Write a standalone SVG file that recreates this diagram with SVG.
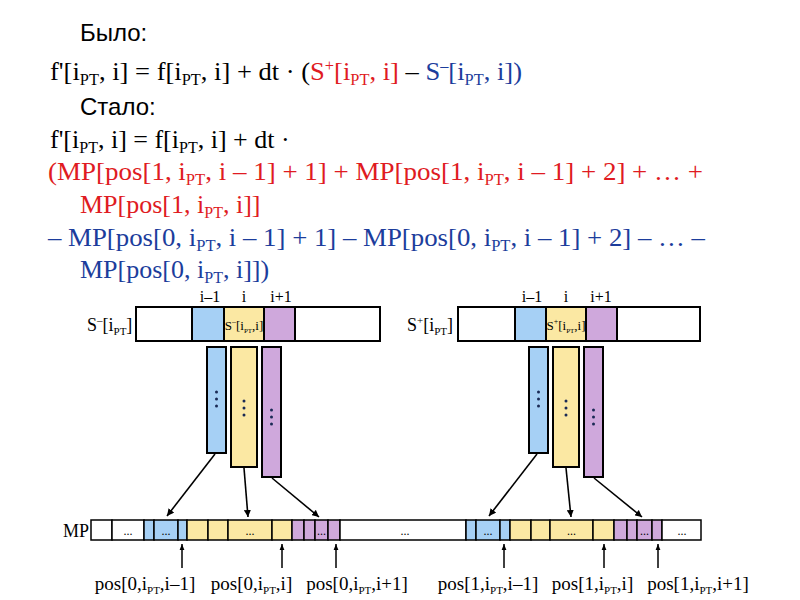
<svg xmlns="http://www.w3.org/2000/svg" width="800" height="600" viewBox="0 0 800 600">
<defs>
<style>
.h{font-family:"Liberation Sans",Arial,sans-serif;font-size:24px;fill:#000}
.f{font-family:"Liberation Serif","Times New Roman",serif;font-size:26px;fill:#000}
.r{fill:#e01b22}
.b{fill:#1c3d9c}
.sub{font-size:16px}
.lab{font-family:"Liberation Serif","Times New Roman",serif;font-size:19px;fill:#000}
.idx{font-family:"Liberation Serif","Times New Roman",serif;font-size:16px;fill:#000;text-anchor:middle}
.arrname{font-family:"Liberation Serif","Times New Roman",serif;font-size:18px;fill:#000}
.cel{font-family:"Liberation Serif","Times New Roman",serif;font-size:13px;fill:#000;text-anchor:middle}
.c8{font-size:8px}
.c7{font-size:7px}
.sm{font-size:11px}
.dots{font-family:"Liberation Serif",serif;font-size:12px;fill:#000}
.cell{stroke:#000;stroke-width:2}
.mc{stroke:#000;stroke-width:1.5}
.w{fill:#fff}
.cb{fill:#a6d0f5}
.cy{fill:#fbe8a3}
.cp{fill:#cfa8dc}
.dot{fill:#1a2a55}
.arr{stroke:#000;stroke-width:1.6;fill:none;marker-end:url(#ah)}
</style>
<marker id="ah" viewBox="0 0 10 10" refX="10" refY="5" markerWidth="7" markerHeight="7" markerUnits="userSpaceOnUse" orient="auto"><path d="M0,0 L10,5 L0,10 z" fill="#000"/></marker>
<marker id="ah2" viewBox="0 0 10 10" refX="10" refY="5" markerWidth="6" markerHeight="6" markerUnits="userSpaceOnUse" orient="auto"><path d="M0,1 L10,5 L0,9 z" fill="#000"/></marker>
</defs>
<rect width="800" height="600" fill="#fff"/>

<g id="formulas">
<text class="h" x="80" y="41">Было:</text>
<text class="f" x="50" y="80" textLength="472" lengthAdjust="spacingAndGlyphs">f'[i<tspan class="sub" dy="5">PT</tspan><tspan dy="-5">, i] = f[i</tspan><tspan class="sub" dy="5">PT</tspan><tspan dy="-5">, i] + dt · (</tspan><tspan class="r">S<tspan class="sub" dy="-9">+</tspan><tspan dy="9">[i</tspan><tspan class="sub" dy="5">PT</tspan><tspan dy="-5">, i]</tspan></tspan> – <tspan class="b">S<tspan class="sub" dy="-9">–</tspan><tspan dy="9">[i</tspan><tspan class="sub" dy="5">PT</tspan><tspan dy="-5">, i])</tspan></tspan></text>
<text class="h" x="80" y="115">Стало:</text>
<text class="f" x="50" y="148">f'[i<tspan class="sub" dy="5">PT</tspan><tspan dy="-5">, i] = f[i</tspan><tspan class="sub" dy="5">PT</tspan><tspan dy="-5">, i] + dt ·</tspan></text>
<text class="f r" x="48" y="180" textLength="655" lengthAdjust="spacingAndGlyphs">(MP[pos[1, i<tspan class="sub" dy="5">PT</tspan><tspan dy="-5">, i – 1] + 1] + MP[pos[1, i</tspan><tspan class="sub" dy="5">PT</tspan><tspan dy="-5">, i – 1] + 2]  + … +</tspan></text>
<text class="f r" x="80" y="213">MP[pos[1, i<tspan class="sub" dy="5">PT</tspan><tspan dy="-5">, i]]</tspan></text>
<text class="f b" x="48" y="246" textLength="657" lengthAdjust="spacingAndGlyphs">– MP[pos[0, i<tspan class="sub" dy="5">PT</tspan><tspan dy="-5">, i – 1] + 1] – MP[pos[0, i</tspan><tspan class="sub" dy="5">PT</tspan><tspan dy="-5">, i – 1] + 2] – … –</tspan></text>
<text class="f b" x="80" y="278">MP[pos[0, i<tspan class="sub" dy="5">PT</tspan><tspan dy="-5">, i]])</tspan></text>
</g>

<g id="s-minus">
<text class="arrname" x="87" y="331">S<tspan class="sm" dy="-7">–</tspan><tspan dy="7">[i</tspan><tspan class="sm" dy="4">PT</tspan><tspan dy="-4">]</tspan></text>
<text class="idx" x="210" y="302">i–1</text>
<text class="idx" x="244" y="302">i</text>
<text class="idx" x="281" y="302">i+1</text>
<rect class="cell w" x="136" y="307" width="56" height="34"/>
<rect class="cell cb" x="192" y="307" width="32" height="34"/>
<rect class="cell cy" x="224" y="307" width="40" height="34"/>
<rect class="cell cp" x="264" y="307" width="31" height="34"/>
<rect class="cell w" x="295" y="307" width="85" height="34"/>
<text class="cel" x="244" y="330">S<tspan class="c8" dy="-6">–</tspan><tspan dy="6">[i</tspan><tspan class="c7" dy="3">PT</tspan><tspan dy="-3">,i]</tspan></text>
</g>

<g id="s-plus">
<text class="arrname" x="407" y="331">S<tspan class="sm" dy="-7">+</tspan><tspan dy="7">[i</tspan><tspan class="sm" dy="4">PT</tspan><tspan dy="-4">]</tspan></text>
<text class="idx" x="532" y="302">i–1</text>
<text class="idx" x="566" y="302">i</text>
<text class="idx" x="601" y="302">i+1</text>
<rect class="cell w" x="458" y="307" width="57" height="34"/>
<rect class="cell cb" x="515" y="307" width="31" height="34"/>
<rect class="cell cy" x="546" y="307" width="40" height="34"/>
<rect class="cell cp" x="586" y="307" width="31" height="34"/>
<rect class="cell w" x="617" y="307" width="83" height="34"/>
<text class="cel" x="566" y="330">S<tspan class="c8" dy="-6">+</tspan><tspan dy="6">[i</tspan><tspan class="c7" dy="3">PT</tspan><tspan dy="-3">,i]</tspan></text>
</g>

<g id="columns-left">
<rect class="cell cb" x="207" y="347" width="19" height="106"/>
<rect class="cell cy" x="231" y="347" width="26" height="120"/>
<rect class="cell cp" x="262" y="347" width="19" height="130"/>
<circle class="dot" cx="216.5" cy="392" r="1.5"/><circle class="dot" cx="216.5" cy="399" r="1.5"/><circle class="dot" cx="216.5" cy="406" r="1.5"/>
<circle class="dot" cx="244" cy="401" r="1.5"/><circle class="dot" cx="244" cy="408" r="1.5"/><circle class="dot" cx="244" cy="415" r="1.5"/>
<circle class="dot" cx="271.5" cy="410" r="1.5"/><circle class="dot" cx="271.5" cy="417" r="1.5"/><circle class="dot" cx="271.5" cy="424" r="1.5"/>
</g>

<g id="columns-right">
<rect class="cell cb" x="529" y="347" width="19" height="106"/>
<rect class="cell cy" x="553" y="347" width="26" height="120"/>
<rect class="cell cp" x="584" y="347" width="19" height="130"/>
<circle class="dot" cx="538.5" cy="392" r="1.5"/><circle class="dot" cx="538.5" cy="399" r="1.5"/><circle class="dot" cx="538.5" cy="406" r="1.5"/>
<circle class="dot" cx="566" cy="401" r="1.5"/><circle class="dot" cx="566" cy="408" r="1.5"/><circle class="dot" cx="566" cy="415" r="1.5"/>
<circle class="dot" cx="593.5" cy="410" r="1.5"/><circle class="dot" cx="593.5" cy="417" r="1.5"/><circle class="dot" cx="593.5" cy="424" r="1.5"/>
</g>

<g id="mp">
<text class="arrname" x="63" y="537">MP</text>
<rect class="mc w" x="91" y="520" width="21" height="20"/>
<rect class="mc w" x="112" y="520" width="32" height="20"/>
<rect class="mc cb" x="144" y="520" width="10" height="20"/>
<rect class="mc cb" x="154" y="520" width="24" height="20"/>
<rect class="mc cb" x="178" y="520" width="9" height="20"/>
<rect class="mc cy" x="187" y="520" width="21" height="20"/>
<rect class="mc cy" x="208" y="520" width="20" height="20"/>
<rect class="mc cy" x="228" y="520" width="44" height="20"/>
<rect class="mc cy" x="272" y="520" width="20" height="20"/>
<rect class="mc cp" x="292" y="520" width="12" height="20"/>
<rect class="mc cp" x="304" y="520" width="11" height="20"/>
<rect class="mc cp" x="315" y="520" width="13" height="20"/>
<rect class="mc cp" x="328" y="520" width="12" height="20"/>
<rect class="mc w" x="340" y="520" width="126" height="20"/>
<rect class="mc cb" x="466" y="520" width="10" height="20"/>
<rect class="mc cb" x="476" y="520" width="24" height="20"/>
<rect class="mc cb" x="500" y="520" width="10" height="20"/>
<rect class="mc cy" x="510" y="520" width="21" height="20"/>
<rect class="mc cy" x="531" y="520" width="19" height="20"/>
<rect class="mc cy" x="550" y="520" width="43" height="20"/>
<rect class="mc cy" x="593" y="520" width="21" height="20"/>
<rect class="mc cp" x="614" y="520" width="13" height="20"/>
<rect class="mc cp" x="627" y="520" width="10" height="20"/>
<rect class="mc cp" x="637" y="520" width="15" height="20"/>
<rect class="mc cp" x="652" y="520" width="10" height="20"/>
<rect class="mc w" x="662" y="520" width="39" height="20"/>
<g class="dots" text-anchor="middle">
<text x="128" y="535">...</text>
<text x="166" y="535">...</text>
<text x="250" y="535">...</text>
<text x="321.5" y="535">...</text>
<text x="405" y="535">...</text>
<text x="488" y="535">...</text>
<text x="571.5" y="535">...</text>
<text x="644.5" y="535">...</text>
<text x="682" y="535">...</text>
</g>
</g>

<g id="pos-labels" class="lab" text-anchor="middle">
<text x="145" y="590">pos[0,i<tspan class="sm" dy="4">PT</tspan><tspan dy="-4">,i–1]</tspan></text>
<text x="251.5" y="590">pos[0,i<tspan class="sm" dy="4">PT</tspan><tspan dy="-4">,i]</tspan></text>
<text x="357" y="590">pos[0,i<tspan class="sm" dy="4">PT</tspan><tspan dy="-4">,i+1]</tspan></text>
<text x="488" y="590">pos[1,i<tspan class="sm" dy="4">PT</tspan><tspan dy="-4">,i–1]</tspan></text>
<text x="592.5" y="590">pos[1,i<tspan class="sm" dy="4">PT</tspan><tspan dy="-4">,i]</tspan></text>
<text x="698" y="590">pos[1,i<tspan class="sm" dy="4">PT</tspan><tspan dy="-4">,i+1]</tspan></text>
</g>

<g id="connectors">
<line class="arr" x1="215" y1="454" x2="167" y2="516"/>
<line class="arr" x1="244" y1="468" x2="248" y2="517"/>
<line class="arr" x1="272" y1="478" x2="319" y2="517"/>
<line class="arr" x1="537" y1="454" x2="489" y2="516"/>
<line class="arr" x1="566" y1="468" x2="571" y2="517"/>
<line class="arr" x1="594" y1="478" x2="642" y2="517"/>
<g style="stroke:#000;stroke-width:1.5;marker-end:url(#ah2)">
<line x1="182" y1="568" x2="182" y2="544"/>
<line x1="282" y1="568" x2="282" y2="544"/>
<line x1="336" y1="568" x2="336" y2="544"/>
<line x1="504" y1="568" x2="504" y2="544"/>
<line x1="604" y1="568" x2="604" y2="544"/>
<line x1="658" y1="568" x2="658" y2="544"/>
</g>
</g>
</svg>
